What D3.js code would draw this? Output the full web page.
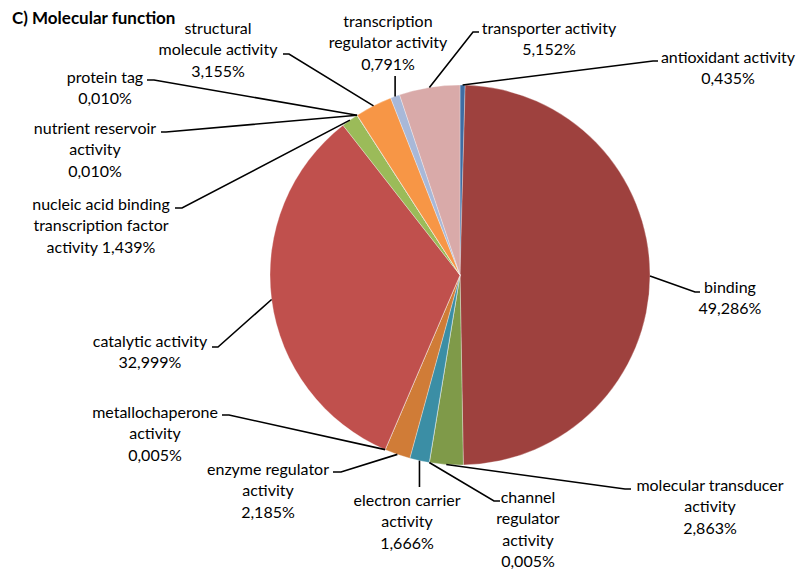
<!DOCTYPE html>
<html>
<head>
<meta charset="utf-8">
<script src="https://cdn.jsdelivr.net/npm/d3@7"></script>
<style>
  html, body { margin: 0; padding: 0; background: #fff; }
  text { font-family: Lato, "Open Sans", sans-serif; fill: #000; }
</style>
</head>
<body>
<svg id="chart" width="801" height="573"></svg>
<script>
// ---- data ----
const categories = [
  "antioxidant activity", "binding", "molecular transducer activity",
  "channel regulator activity", "electron carrier activity", "enzyme regulator activity",
  "metallochaperone activity", "catalytic activity",
  "nucleic acid binding transcription factor activity", "nutrient reservoir activity",
  "protein tag", "structural molecule activity", "transcription regulator activity",
  "transporter activity"
];
const values = [0.435, 49.286, 2.863, 0.005, 1.666, 2.185, 0.005, 32.999, 1.439, 0.010, 0.010, 3.155, 0.791, 5.152];
const colors = ["#3f6da3", "#9e413e", "#7f9a49", "#8064a2", "#3b8ea5", "#d07c37", "#4bacc6",
                "#c0504d", "#9bbb59", "#2c4d75", "#772c2a", "#f79646", "#a8b8d8", "#d9aaa9"];
// label text lines ({v} = formatted value)
const labelLines = [
  ["antioxidant activity", "{v}"],
  ["binding", "{v}"],
  ["molecular transducer", "activity", "{v}"],
  ["channel", "regulator", "activity", "{v}"],
  ["electron carrier", "activity", "{v}"],
  ["enzyme regulator", "activity", "{v}"],
  ["metallochaperone", "activity", "{v}"],
  ["catalytic activity", "{v}"],
  ["nucleic acid binding", "transcription factor", "activity {v}"],
  ["nutrient reservoir", "activity", "{v}"],
  ["protein tag", "{v}"],
  ["structural", "molecule activity", "{v}"],
  ["transcription", "regulator activity", "{v}"],
  ["transporter activity", "{v}"]
];
const title = "C) Molecular function";

// ---- layout (label placement) ----
const labelPos = [
  {x: 728, y: 57,  ax: 658, ay: 61,  ex: 653, ey: 61},
  {x: 730, y: 287, ax: 700, ay: 292, ex: 695, ey: 292},
  {x: 710, y: 485, ax: 631, ay: 489, ex: 625, ey: 489},
  {x: 528, y: 497, ax: 500, ay: 501, ex: 494, ey: 501},
  {x: 407, y: 500, ax: null, ay: 487},
  {x: 268, y: 469, ax: 333, ay: 472, ex: 341, ey: 472},
  {x: 155, y: 412, ax: 222, ay: 415, ex: 229, ey: 415},
  {x: 150, y: 341, ax: 212, ay: 347, ex: 218, ey: 347},
  {x: 101, y: 204, ax: 175, ay: 208, ex: 182, ey: 208},
  {x: 95,  y: 128, ax: 161, ay: 132, ex: 166, ey: 132},
  {x: 105, y: 77,  ax: 147, ay: 80,  ex: 154, ey: 80},
  {x: 218, y: 28,  ax: 283, ay: 54,  ex: 289, ey: 54},
  {x: 388, y: 21,  ax: null, ay: 76},
  {x: 549, y: 28,  ax: 479, ay: 32,  ex: 473, ey: 32}
];
const cx = 460, cy = 275, R = 190, lineH = 21.5, fontSize = 16;

const fmt = d3.formatLocale({decimal: ",", thousands: ".", grouping: [3], currency: ["", ""]}).format(".3f");

const svg = d3.select("#chart");
svg.append("text").attr("x", 12).attr("y", 24)
  .attr("font-weight", "bold").attr("font-size", 17).text(title);

const pie = d3.pie().sort(null).value(d => d)(values);
const arc = d3.arc().innerRadius(0).outerRadius(R);
const edge = d3.arc().innerRadius(R).outerRadius(R);

const g = svg.append("g").attr("transform", `translate(${cx},${cy})`);
g.selectAll("path.slice").data(pie).enter().append("path")
  .attr("class", "slice")
  .attr("d", arc)
  .attr("fill", (d, i) => colors[i])
  .attr("stroke", "#ffffff").attr("stroke-width", 0.5).attr("stroke-opacity", 0.6);

// leader lines
const leaders = svg.append("g");
pie.forEach((d, i) => {
  const p = edge.centroid(d);
  const px = cx + p[0], py = cy + p[1];
  const L = labelPos[i];
  let pts;
  if (L.ax === null) pts = [[px, py], [px, L.ay]];
  else pts = [[px, py], [L.ex, L.ey], [L.ax, L.ay]];
  leaders.append("path")
    .attr("d", d3.line()(pts))
    .attr("fill", "none").attr("stroke", "#000").attr("stroke-width", 1.6);
});

// labels
const labels = svg.append("g");
labelLines.forEach((lines, i) => {
  const L = labelPos[i];
  const t = labels.append("text").attr("text-anchor", "middle").attr("font-size", fontSize);
  lines.forEach((ln, k) => {
    t.append("tspan").attr("x", L.x).attr("y", L.y + k * lineH).attr("dy", "0.35em")
      .text(ln.replace("{v}", fmt(values[i]) + "%"));
  });
});
</script>
</body>
</html>
